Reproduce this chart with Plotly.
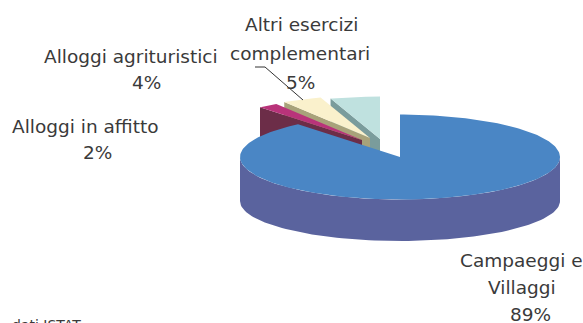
import numpy as np
import plotly.graph_objects as go

# Data
categories = ["Campaeggi e Villaggi", "Alloggi in affitto", "Alloggi agrituristici", "Altri esercizi complementari"]
values = [89, 2, 4, 5]
label_lines = [["Campaeggi e", "Villaggi", "89%"], ["Alloggi in affitto", "2%"],
               ["Alloggi agrituristici", "4%"], ["Altri esercizi", "complementari", "5%"]]
source_note = "dati ISTAT"

# Styles and pseudo-3D geometry
top_colors = ["#4A86C5", "#B9337A", "#FAF1CC", "#BFE1DF"]
side_colors = ["#5A639E", "#6C2D48", "#A8A27A", "#7A9C9C"]
apex = [(400, 157), (362, 140), (370, 138), (380, 139)]
label_pos = [[(521, 260), (522, 287), (530, 314)], [(85, 126), (97, 152)],
             [(131, 56), (146, 82)], [(301, 24), (300, 53), (300, 82)]]
RX, RY, DEPTH = 160, 42.5, 41
BASE_RY, BASE_DROP = 40, 44
FONT = dict(family="DejaVu Sans, Verdana", size=18.5, color="#3a3a3a")

edges = np.cumsum([0] + values) / sum(values) * 2 * np.pi


def rim(t0, t1, cx, cy, n=90, ry=RY):
    t = np.linspace(t0, t1, n)
    return cx + RX * np.sin(t), cy - ry * np.cos(t)


fig = go.Figure()


def poly(xs, ys, color):
    fig.add_trace(go.Scatter(x=list(xs), y=list(ys), mode="lines", fill="toself", fillcolor=color,
                             line=dict(width=0), hoverinfo="skip", showlegend=False))


# Back wedges first (far to near), each with its visible cut face
for i in [3, 2, 1]:
    cx, cy = apex[i]
    t0, t1 = edges[i], edges[i + 1]
    ex, ey = cx + RX * np.sin(t0), cy - RY * np.cos(t0)
    poly([cx, ex, ex, cx], [cy, ey, ey + DEPTH, cy + DEPTH], side_colors[i])
    x, y = rim(t0, t1, cx, cy)
    poly(np.r_[cx, x], np.r_[cy, y], top_colors[i])

# Main slice: front wall, then top
cx, cy = apex[0]
t0, t1 = edges[0], edges[1]
x, y = rim(np.pi / 2, 3 * np.pi / 2, cx, cy)
bx, by = rim(3 * np.pi / 2, np.pi / 2, cx, cy + BASE_DROP, ry=BASE_RY)
poly(np.r_[x, bx], np.r_[y, by], side_colors[0])
x, y = rim(t0, t1, cx, cy, 240)
poly(np.r_[cx, x], np.r_[cy, y], top_colors[0])

# Leader line for the "Altri esercizi" label
fig.add_trace(go.Scatter(x=[255, 265, 303], y=[67, 67, 100], mode="lines", line=dict(color="#333333", width=1),
                         hoverinfo="skip", showlegend=False))

ann = []
for lines, pos in zip(label_lines, label_pos):
    for txt, (px, py) in zip(lines, pos):
        ann.append(dict(x=px, y=py, text=txt, showarrow=False, xanchor="center", yanchor="middle", font=FONT))
ann.append(dict(xref="paper", yref="paper", x=83 / 583, y=1 - 325 / 323, text=source_note, showarrow=False,
                xanchor="right", yanchor="middle",
                font=dict(family="DejaVu Sans, Verdana", size=14, color="#3a3a3a")))

fig.update_layout(width=583, height=323, margin=dict(l=0, r=0, t=0, b=0), paper_bgcolor="white",
                  plot_bgcolor="white", annotations=ann, showlegend=False,
                  xaxis=dict(range=[0, 583], visible=False, fixedrange=True),
                  yaxis=dict(range=[323, 0], visible=False, fixedrange=True))
fig.write_html("out.html", config=dict(displayModeBar=False),
               post_script="document.body.style.margin='0';document.documentElement.style.overflow='hidden';")
